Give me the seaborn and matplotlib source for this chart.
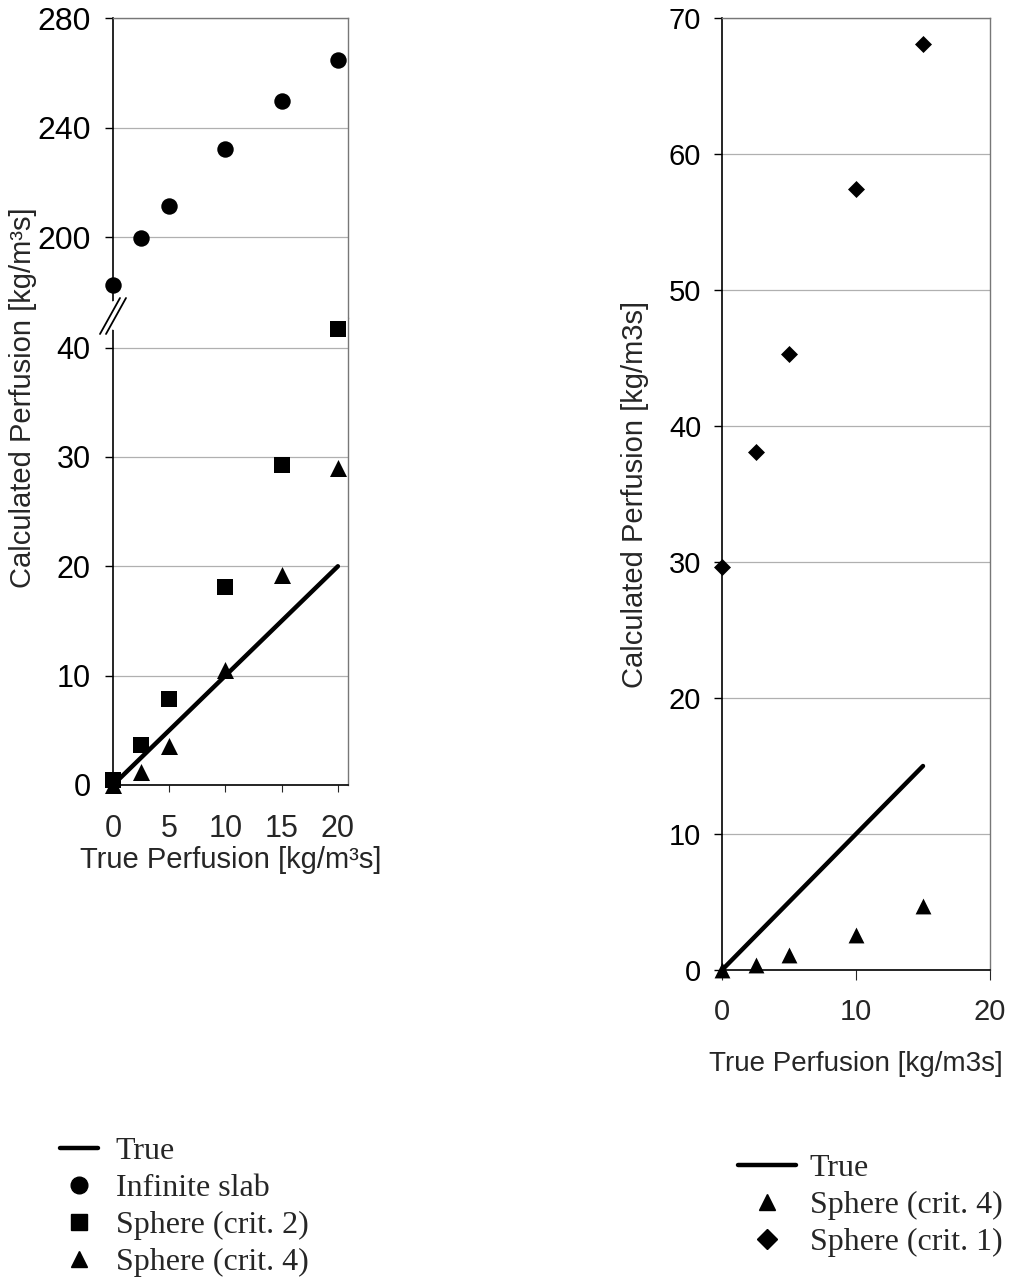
import matplotlib
matplotlib.use("Agg")
import matplotlib.pyplot as plt
from matplotlib.lines import Line2D
import seaborn as sns
import pandas as pd

# ---- data ----
true_x_left = [0, 20]
true_y_left = [0, 20]
x_left = [0, 2.5, 5, 10, 15, 20]
slab = [182.6, 199.6, 211.4, 232.1, 249.8, 264.5]
sphere_crit2 = [0.45, 3.7, 7.9, 18.1, 29.3, 41.7]
sphere_crit4_left = [0.0, 1.2, 3.6, 10.5, 19.2, 29.0]

true_x_right = [0, 15]
true_y_right = [0, 15]
x_right = [0, 2.5, 5, 10, 15]
sphere_crit4_right = [0.0, 0.4, 1.1, 2.6, 4.7]
sphere_crit1 = [29.6, 38.1, 45.3, 57.4, 68.1]

left_top_ticks = [200, 240, 280]
left_bot_ticks = [0, 10, 20, 30, 40]
left_xticks = [0, 5, 10, 15, 20]
right_yticks = [0, 10, 20, 30, 40, 50, 60, 70]
right_xticks = [0, 10, 20]

sns.set_style("white")
plt.rcParams['font.family'] = ['Liberation Sans', 'DejaVu Sans']

W, H = 1014, 1280
fig = plt.figure(figsize=(W / 100, H / 100), dpi=100)

def fx(px):
    return px / W

def fy(py):
    return 1 - py / H

ax_top = fig.add_axes([fx(113), fy(318), fx(348) - fx(113), fy(18) - fy(318)])
ax_bot = fig.add_axes([fx(113), fy(785), fx(348) - fx(113), fy(318) - fy(785)])
ax_r = fig.add_axes([fx(722), fy(970), fx(990) - fx(722), fy(18) - fy(970)])

df_left = pd.DataFrame({"x": x_left, "slab": slab, "c2": sphere_crit2, "c4": sphere_crit4_left})
df_right = pd.DataFrame({"x": x_right, "c4": sphere_crit4_right, "c1": sphere_crit1})

grid_kw = dict(color="#b0b0b0", lw=0.9)

def style(ax, tick_fs, pad):
    ax.yaxis.grid(True, **grid_kw)
    ax.xaxis.grid(False)
    for s in ["top", "right"]:
        ax.spines[s].set_color("#777777")
        ax.spines[s].set_linewidth(1.0)
    for s in ["left", "bottom"]:
        ax.spines[s].set_color("black")
        ax.spines[s].set_linewidth(1.2)
    ax.tick_params(axis="y", direction="out", length=6, width=1, pad=pad,
                   labelsize=tick_fs, left=True, colors="black")
    ax.set_xlabel("")
    ax.set_ylabel("")

# ---- left: top part (infinite slab) ----
sns.scatterplot(data=df_left, x="x", y="slab", ax=ax_top, marker="o", s=140,
                color="black", edgecolor="black", linewidth=0, clip_on=False, zorder=5)
ax_top.set_xlim(0, 20.9)
ax_top.set_ylim(170.5, 280)
ax_top.set_yticks(left_top_ticks)
style(ax_top, 23, 10)
ax_top.spines["bottom"].set_visible(False)
ax_top.set_xticks([])

# ---- left: bottom part ----
sns.lineplot(x=true_x_left, y=true_y_left, ax=ax_bot, color="black", lw=3.2, zorder=4)
sns.scatterplot(data=df_left, x="x", y="c2", ax=ax_bot, marker="s", s=130,
                color="black", edgecolor="black", linewidth=0, clip_on=False, zorder=5)
sns.scatterplot(data=df_left, x="x", y="c4", ax=ax_bot, marker="^", s=150,
                color="black", edgecolor="black", linewidth=0, clip_on=False, zorder=5)
ax_bot.set_xlim(0, 20.9)
ax_bot.set_ylim(0, 42.7)
ax_bot.set_yticks(left_bot_ticks)
ax_bot.set_xticks(left_xticks)
style(ax_bot, 22, 10)
ax_bot.spines["top"].set_visible(False)
ax_bot.tick_params(axis="x", direction="out", length=5, pad=16, labelsize=22, bottom=True)
ax_bot.set_xlabel("True Perfusion [kg/m³s]", fontsize=21, labelpad=1)

# break marks on the left spine: a white gap crossed by two parallel slashes
fig.add_artist(Line2D([fx(113), fx(113)], [fy(326), fy(304)], color="white", lw=5))
for dx in (-3, 3):
    fig.add_artist(Line2D([fx(103 + dx), fx(123 + dx)], [fy(334), fy(298)],
                          color="black", lw=1.3))

fig.text(fx(23), fy(398), "Calculated Perfusion [kg/m³s]", rotation=90,
         ha="center", va="center", fontsize=21)

# ---- right panel ----
sns.lineplot(x=true_x_right, y=true_y_right, ax=ax_r, color="black", lw=3.2, zorder=4)
sns.scatterplot(data=df_right, x="x", y="c4", ax=ax_r, marker="^", s=130,
                color="black", edgecolor="black", linewidth=0, clip_on=False, zorder=5)
sns.scatterplot(data=df_right, x="x", y="c1", ax=ax_r, marker="D", s=75,
                color="black", edgecolor="black", linewidth=0, clip_on=False, zorder=5)
ax_r.set_xlim(0, 20)
ax_r.set_ylim(0, 70)
ax_r.set_yticks(right_yticks)
ax_r.set_xticks(right_xticks)
style(ax_r, 21, 9)
ax_r.tick_params(axis="x", direction="out", length=7, pad=13, labelsize=21, bottom=True)
ax_r.set_xlabel("True Perfusion [kg/m3s]", fontsize=20, labelpad=18)
ax_r.set_ylabel("Calculated Perfusion [kg/m3s]", fontsize=21, labelpad=14)

# ---- legends ----
leg_font = dict(family=["Liberation Serif", "DejaVu Serif"], size=23)
h_true = Line2D([], [], color="black", lw=3.2)
h_circ = Line2D([], [], color="black", marker="o", ls="", markersize=12)
h_sq = Line2D([], [], color="black", marker="s", ls="", markersize=11)
h_tri = Line2D([], [], color="black", marker="^", ls="", markersize=12)
h_dia = Line2D([], [], color="black", marker="D", ls="", markersize=10)

fig.legend([h_true, h_circ, h_sq, h_tri],
           ["True", "Infinite slab", "Sphere (crit. 2)", "Sphere (crit. 4)"],
           loc="upper left", bbox_to_anchor=(fx(60), fy(1137)), frameon=False,
           prop=leg_font, handlelength=1.2, handletextpad=0.55, labelspacing=0.24,
           borderpad=0, borderaxespad=0)
fig.legend([h_true, h_tri, h_dia],
           ["True", "Sphere (crit. 4)", "Sphere (crit. 1)"],
           loc="upper left", bbox_to_anchor=(fx(738), fy(1154)), frameon=False,
           prop=leg_font, handlelength=1.8, handletextpad=0.45, labelspacing=0.24,
           borderpad=0, borderaxespad=0)

fig.savefig("out.png", dpi=100)
